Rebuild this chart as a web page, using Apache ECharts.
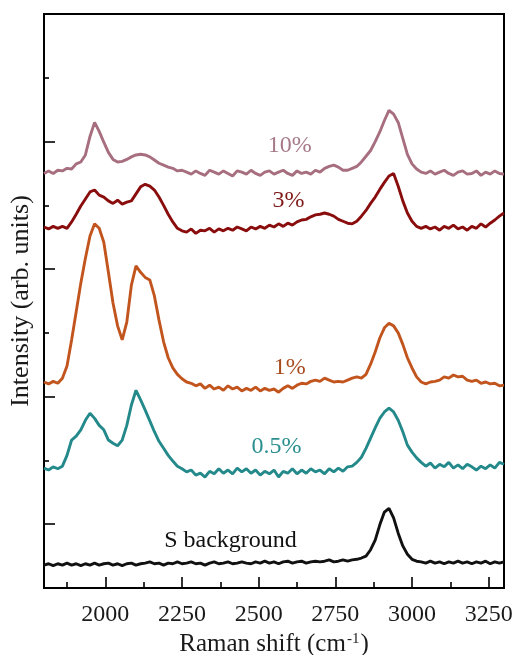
<!DOCTYPE html>
<html>
<head>
<meta charset="utf-8">
<script src="https://cdn.jsdelivr.net/npm/echarts@6/dist/echarts.min.js"></script>
<style>
  html, body { margin: 0; padding: 0; background: #ffffff; }
  #chart { width: 515px; height: 655px; }
</style>
</head>
<body>
<div id="chart"></div>
<script>
// Raman shift sampling (cm^-1)
const wavenumber = [
  1800,1815,1830,1845,1860,1875,1890,1905,1920,1935,
  1950,1965,1980,1995,2010,2025,2040,2055,2070,2085,
  2100,2115,2130,2145,2160,2175,2190,2205,2220,2235,
  2250,2265,2280,2295,2310,2325,2340,2355,2370,2385,
  2400,2415,2430,2445,2460,2475,2490,2505,2520,2535,
  2550,2565,2580,2595,2610,2625,2640,2655,2670,2685,
  2700,2715,2730,2745,2760,2775,2790,2805,2820,2835,
  2850,2865,2880,2895,2910,2925,2940,2955,2970,2985,
  3000,3015,3030,3045,3060,3075,3090,3105,3120,3135,
  3150,3165,3180,3195,3210,3225,3240,3255,3270,3285,
  3300
];

// Intensities (arb. units), spectra already stacked with vertical offsets
const spec10 = [
  6.50,6.54,6.50,6.55,6.54,6.58,6.57,6.65,6.68,6.79,
  7.08,7.30,7.16,6.99,6.83,6.72,6.68,6.69,6.72,6.76,
  6.79,6.80,6.79,6.76,6.71,6.66,6.63,6.60,6.58,6.54,
  6.55,6.52,6.49,6.54,6.50,6.47,6.55,6.52,6.49,6.54,
  6.50,6.46,6.54,6.52,6.49,6.55,6.50,6.47,6.52,6.54,
  6.49,6.52,6.55,6.50,6.47,6.54,6.50,6.52,6.49,6.55,
  6.52,6.58,6.61,6.63,6.60,6.55,6.55,6.58,6.61,6.68,
  6.77,6.86,7.00,7.15,7.33,7.49,7.43,7.30,7.05,6.80,
  6.65,6.57,6.52,6.50,6.54,6.49,6.52,6.55,6.50,6.47,
  6.52,6.54,6.49,6.50,6.54,6.47,6.52,6.49,6.54,6.50,
  6.49
];
const spec3 = [
  5.66,5.63,5.67,5.64,5.67,5.64,5.74,5.86,5.99,6.10,
  6.21,6.24,6.16,6.13,6.07,6.03,6.08,6.02,6.05,6.07,
  6.18,6.29,6.33,6.30,6.24,6.13,6.00,5.86,5.74,5.64,
  5.60,5.58,5.63,5.56,5.61,5.60,5.64,5.58,5.63,5.60,
  5.64,5.61,5.66,5.63,5.60,5.66,5.63,5.67,5.64,5.69,
  5.66,5.71,5.67,5.72,5.69,5.74,5.77,5.78,5.82,5.85,
  5.86,5.88,5.86,5.83,5.78,5.75,5.72,5.71,5.75,5.83,
  5.92,6.03,6.13,6.25,6.36,6.46,6.50,6.30,6.07,5.88,
  5.75,5.67,5.64,5.67,5.63,5.66,5.61,5.67,5.64,5.69,
  5.63,5.66,5.61,5.67,5.64,5.71,5.66,5.72,5.77,5.83,
  5.88
];
const spec1 = [
  3.23,3.20,3.24,3.21,3.29,3.48,3.89,4.33,4.78,5.17,
  5.52,5.71,5.64,5.42,4.95,4.47,4.11,3.89,4.17,4.75,
  5.05,4.95,4.87,4.83,4.58,4.20,3.86,3.61,3.45,3.35,
  3.28,3.23,3.21,3.17,3.20,3.13,3.18,3.12,3.15,3.10,
  3.17,3.12,3.15,3.09,3.13,3.10,3.15,3.09,3.13,3.10,
  3.12,3.07,3.13,3.17,3.13,3.18,3.21,3.20,3.24,3.26,
  3.24,3.29,3.26,3.23,3.24,3.23,3.26,3.29,3.31,3.29,
  3.35,3.51,3.70,3.92,4.08,4.15,4.11,4.00,3.82,3.61,
  3.45,3.31,3.23,3.20,3.23,3.24,3.26,3.31,3.29,3.34,
  3.31,3.32,3.26,3.24,3.26,3.21,3.23,3.20,3.21,3.17,
  3.18
];
const spec05 = [
  1.88,1.85,1.90,1.87,1.91,2.08,2.32,2.38,2.48,2.63,
  2.74,2.66,2.55,2.48,2.32,2.27,2.23,2.32,2.55,2.87,
  3.10,2.95,2.79,2.62,2.45,2.30,2.19,2.08,1.99,1.91,
  1.87,1.82,1.85,1.77,1.80,1.74,1.83,1.79,1.87,1.80,
  1.85,1.79,1.88,1.82,1.87,1.80,1.85,1.77,1.83,1.79,
  1.85,1.74,1.83,1.80,1.87,1.79,1.85,1.80,1.87,1.82,
  1.85,1.79,1.87,1.82,1.88,1.83,1.90,1.91,1.97,2.05,
  2.19,2.35,2.51,2.66,2.76,2.82,2.76,2.63,2.45,2.24,
  2.13,2.04,1.97,1.91,1.96,1.88,1.94,1.90,1.97,1.88,
  1.93,1.87,1.94,1.90,1.85,1.91,1.87,1.93,1.88,1.97,
  1.94
];
const specS = [
  0.36,0.38,0.35,0.38,0.36,0.39,0.36,0.38,0.35,0.38,
  0.36,0.39,0.36,0.38,0.39,0.36,0.38,0.35,0.38,0.39,
  0.36,0.38,0.39,0.41,0.38,0.39,0.36,0.39,0.38,0.41,
  0.38,0.39,0.41,0.38,0.39,0.36,0.39,0.41,0.38,0.39,
  0.41,0.38,0.39,0.41,0.39,0.38,0.41,0.39,0.42,0.39,
  0.41,0.38,0.41,0.42,0.39,0.41,0.42,0.39,0.41,0.42,
  0.41,0.42,0.44,0.41,0.42,0.44,0.42,0.44,0.45,0.47,
  0.50,0.60,0.75,0.99,1.19,1.25,1.10,0.86,0.66,0.53,
  0.45,0.42,0.41,0.39,0.42,0.39,0.41,0.38,0.41,0.39,
  0.42,0.39,0.41,0.38,0.41,0.39,0.42,0.38,0.41,0.39,
  0.41
];

const seriesNames = ['10%', '3%', '1%', '0.5%', 'S background'];
const seriesData = [spec10, spec3, spec1, spec05, specS];
const lineColors = ['#a66e7e', '#8a0d0d', '#c2551e', '#23898a', '#111111'];
const labelColors = ['#a57a89', '#7e1a1a', '#a84c1f', '#2b8f8f', '#111111'];
// where each trace's name is written: [Raman shift, intensity]
const labelAnchors = [[2601, 6.94], [2597, 6.08], [2601, 3.46], [2558, 2.21], [2408, 0.74]];

// x tick labels
const xTickLabels = ['2000', '2250', '2500', '2750', '3000', '3250'];

// axis ranges and tick spacing
const X_MIN = 1800, X_MAX = 3300, X_TICK_STEP = 250;
const Y_MIN = 0, Y_MAX = 9;
// the tick ruler on the left sits one unit lower than the data scale
const Y_TICK_MIN = -1, Y_TICK_MAX = 8, Y_TICK_STEP = 2;

const serif = '"Liberation Serif", "Times New Roman", serif';

const chart = echarts.init(document.getElementById('chart'), null, { renderer: 'canvas' });

const series = seriesNames.map((name, k) => ({
  name: name,
  type: 'line',
  xAxisIndex: 0,
  yAxisIndex: 0,
  showSymbol: false,
  symbol: 'none',
  smooth: false,
  lineStyle: { color: lineColors[k], width: 2.9 },
  data: wavenumber.map((w, i) => [w, seriesData[k][i]]),
  markPoint: {
    silent: true,
    symbol: 'circle',
    symbolSize: 1,
    itemStyle: { color: 'rgba(0,0,0,0)' },
    label: {
      show: true,
      position: 'inside',
      formatter: name,
      color: labelColors[k],
      fontFamily: serif,
      fontSize: 24
    },
    data: [{ coord: labelAnchors[k] }]
  }
}));

const option = {
  backgroundColor: '#ffffff',
  animation: false,
  grid: {
    left: 44, right: 11, top: 14, bottom: 67,
    containLabel: false,
    outerBoundsMode: 'none',
    show: true,
    borderColor: '#000',
    borderWidth: 2,
    backgroundColor: 'transparent'
  },
  xAxis: [{
    type: 'value',
    min: X_MIN, max: X_MAX,
    minInterval: X_TICK_STEP, maxInterval: X_TICK_STEP,
    position: 'bottom',
    axisLine: { show: true, onZero: false, lineStyle: { color: '#000', width: 2 } },
    axisTick: { show: true, inside: true, length: 11, lineStyle: { color: '#000', width: 1.6 } },
    minorTick: { show: true, splitNumber: 2, length: 6, lineStyle: { color: '#000', width: 1.6 } },
    axisLabel: {
      show: true,
      showMinLabel: false,
      showMaxLabel: false,
      hideOverlap: false,
      margin: 15,
      color: '#1a1a1a',
      fontFamily: serif,
      fontSize: 24,
      formatter: (v) => (xTickLabels.indexOf(String(v)) >= 0 ? String(v) : '')
    },
    splitLine: { show: false },
    minorSplitLine: { show: false },
    name: 'Raman shift (cm{sup|-1})',
    nameLocation: 'middle',
    nameGap: 43,
    nameTextStyle: {
      color: '#1a1a1a',
      fontFamily: serif,
      fontSize: 25,
      rich: {
        sup: { fontFamily: serif, fontSize: 15, color: '#1a1a1a', verticalAlign: 'top', padding: [0, 1, 10, 1] }
      }
    }
  }],
  yAxis: [
    { // data scale
      type: 'value', min: Y_MIN, max: Y_MAX, show: false
    },
    { // tick ruler
      type: 'value',
      min: Y_TICK_MIN, max: Y_TICK_MAX,
      minInterval: Y_TICK_STEP, maxInterval: Y_TICK_STEP,
      position: 'left',
      axisLine: { show: true, onZero: false, lineStyle: { color: '#000', width: 2 } },
      axisTick: { show: true, inside: true, length: 11, lineStyle: { color: '#000', width: 1.6 } },
      minorTick: { show: true, splitNumber: 2, length: 5, lineStyle: { color: '#000', width: 1.6 } },
      axisLabel: { show: false },
      splitLine: { show: false },
      minorSplitLine: { show: false },
      name: 'Intensity (arb. units)',
      nameLocation: 'middle',
      nameRotate: 90,
      nameGap: 10,
      nameTextStyle: { color: '#1a1a1a', fontFamily: serif, fontSize: 26 }
    }
  ],
  series: series
};

chart.setOption(option);
</script>
</body>
</html>
